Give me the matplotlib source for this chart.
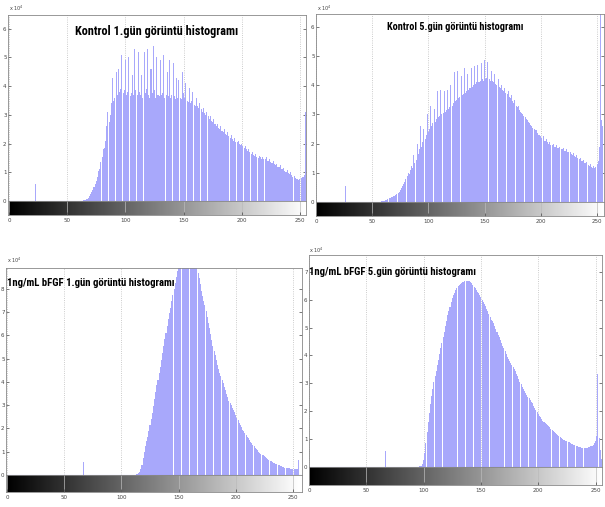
import numpy as np
import matplotlib
matplotlib.use("Agg")
import matplotlib.pyplot as plt

# ---- data (counts x 10^4, one value per grey level) ----
bins = np.arange(256)

# Kontrol 1.gun
k1_start = 64
k1_vals = [0.02, 0.03, 0.05, 0.08, 0.12, 0.18,
           0.25, 0.32, 0.40, 0.50, 0.58, 0.70, 0.85, 1.05, 1.10, 1.35,
           1.55, 1.80, 1.85, 2.10, 2.60, 3.10, 2.75, 3.00, 3.40, 4.30,
           3.50, 3.60, 4.50, 3.70, 4.60, 3.80, 3.90, 5.10, 3.75, 3.85,
           4.90, 3.70, 3.80, 5.00, 3.65, 3.75, 4.40, 3.70, 5.30, 3.85,
           3.70, 5.20, 3.80, 3.70, 4.40, 3.60, 5.20, 3.75, 3.90, 5.30,
           3.70, 3.60, 4.60, 3.75, 5.40, 3.85, 3.60, 5.00, 3.70, 3.65,
           4.90, 3.70, 3.75, 5.10, 3.60, 3.70, 4.50, 3.65, 4.90, 3.60,
           3.70, 4.80, 3.65, 3.55, 4.30, 3.60, 4.20, 3.60, 3.55, 4.50,
           3.75, 3.60, 4.10, 3.50, 3.45, 3.95, 3.40, 3.50, 3.80, 3.35,
           3.30, 3.60, 3.30, 3.25, 3.40, 3.20, 3.10, 3.25, 3.05, 3.00,
           3.10, 2.95, 2.85, 2.95, 2.80, 2.75, 2.85, 2.70, 2.60, 2.70,
           2.55, 2.50, 2.60, 2.45, 2.40, 2.50, 2.35, 2.30, 2.40, 2.25,
           2.20, 2.30, 2.15, 2.10, 2.20, 2.05, 2.05, 2.10, 2.00, 1.95,
           2.00, 1.90, 1.85, 1.90, 1.80, 1.75, 1.80, 1.70, 1.65, 1.70,
           1.62, 1.58, 1.65, 1.55, 1.50, 1.58, 1.52, 1.48, 1.55, 1.45,
           1.45, 1.52, 1.40, 1.38, 1.45, 1.35, 1.32, 1.40, 1.28, 1.25,
           1.30, 1.20, 1.18, 1.25, 1.12, 1.10, 1.15, 1.05, 1.02, 1.08,
           0.98, 0.95, 1.00, 0.90, 0.85, 0.88, 0.80, 0.75, 0.78, 0.72,
           0.75, 0.80, 0.85, 0.82, 0.90, 3.10]
k1_spike_bin = [23]
k1_spike_val = [0.58]

# Kontrol 5.gun
k5_start = 58
k5_vals = [0.02, 0.03,
           0.04, 0.05, 0.06, 0.08, 0.10, 0.12, 0.14, 0.16, 0.18, 0.20,
           0.22, 0.25, 0.28, 0.32, 0.35, 0.40, 0.48, 0.55, 0.62, 0.70,
           0.80, 0.88, 1.00, 0.95, 1.10, 1.25, 1.15, 1.60, 1.35, 1.45,
           2.00, 1.65, 1.80, 2.60, 1.90, 2.05, 2.50, 2.15, 2.30, 3.00,
           2.40, 2.50, 3.30, 2.60, 2.70, 3.20, 2.75, 2.85, 3.80, 2.90,
           2.95, 3.85, 3.00, 3.05, 3.80, 3.10, 3.15, 3.85, 3.20, 3.25,
           4.00, 3.30, 3.40, 4.45, 3.45, 3.50, 4.50, 3.55, 3.60, 4.30,
           3.65, 3.70, 4.60, 3.75, 3.80, 4.40, 3.85, 3.90, 4.60, 3.95,
           4.00, 4.65, 4.05, 4.10, 4.70, 4.10, 4.15, 4.75, 4.20, 4.15,
           4.85, 4.20, 4.25, 4.80, 4.20, 4.15, 4.50, 4.15, 4.10, 4.40,
           4.05, 4.00, 4.20, 3.95, 3.90, 4.00, 3.85, 3.80, 3.90, 3.75,
           3.70, 3.80, 3.60, 3.55, 3.65, 3.45, 3.40, 3.50, 3.30, 3.25,
           3.30, 3.15, 3.10, 3.05, 3.00, 2.95, 2.90, 2.85, 2.80, 2.75,
           2.70, 2.65, 2.60, 2.55, 2.50, 2.45, 2.45, 2.35, 2.30, 2.30,
           2.25, 2.20, 2.25, 2.10, 2.10, 2.15, 2.05, 2.00, 2.05, 1.95,
           1.95, 2.00, 1.90, 1.90, 1.95, 1.85, 1.85, 1.90, 1.80, 1.80,
           1.85, 1.75, 1.75, 1.80, 1.70, 1.70, 1.72, 1.65, 1.62, 1.68,
           1.58, 1.55, 1.60, 1.50, 1.48, 1.52, 1.42, 1.40, 1.45, 1.35,
           1.32, 1.38, 1.28, 1.25, 1.30, 1.20, 1.18, 1.25, 1.15, 1.20,
           1.30, 1.40, 1.90, 6.90, 2.80, 2.60]
k5_spike_bin = [26]
k5_spike_val = [0.54]

# 1ng/mL bFGF 1.gun
f1_start = 112
f1_vals = [0.02, 0.03, 0.05, 0.08, 0.12, 0.25, 0.45, 0.75,
           1.00, 1.25, 1.45, 1.65, 1.90, 2.15, 2.40, 2.65, 2.95, 3.25,
           3.55, 3.85, 4.10, 4.40, 4.65, 4.95, 5.25, 5.55, 5.85, 6.10,
           6.40, 6.70, 6.95, 7.20, 7.50, 7.75, 8.00, 8.25, 8.50, 8.75,
           8.95, 9.15, 9.30, 9.45, 9.55, 9.60, 9.65, 9.65, 9.60, 9.55,
           9.50, 9.40, 9.30, 9.20, 9.10, 9.00, 8.90, 8.70, 8.45, 8.20,
           7.90, 7.70, 7.50, 7.30, 7.05, 6.80, 6.55, 6.30, 6.05, 5.80,
           5.55, 5.35, 5.15, 4.95, 4.75, 4.55, 4.40, 4.25, 4.10, 3.95,
           3.80, 3.65, 3.50, 3.35, 3.20, 3.10, 3.00, 2.90, 2.80, 2.70,
           2.60, 2.45, 2.35, 2.25, 2.15, 2.05, 1.95, 1.88, 1.80, 1.72,
           1.65, 1.58, 1.50, 1.43, 1.36, 1.30, 1.24, 1.18, 1.12, 1.06,
           1.00, 0.96, 0.92, 0.88, 0.84, 0.80, 0.76, 0.72, 0.68, 0.65,
           0.62, 0.59, 0.56, 0.53, 0.50, 0.48, 0.46, 0.44, 0.42, 0.40,
           0.38, 0.36, 0.34, 0.32, 0.31, 0.30, 0.29, 0.28, 0.27, 0.26,
           0.25, 0.25, 0.24, 0.24, 0.26, 0.65]
f1_spike_bin = [67]
f1_spike_val = [0.57]

# 1ng/mL bFGF 5.gun
f5_start = 95
f5_vals = [0.01, 0.02, 0.03, 0.05, 0.10,
           0.25, 0.50, 0.85, 1.25, 1.60, 1.95, 2.25, 2.55, 2.80, 3.05,
           3.25, 3.45, 3.65, 3.85, 4.05, 4.25, 4.45, 4.65, 4.85, 5.05,
           5.25, 5.45, 5.60, 5.75, 5.90, 6.05, 6.15, 6.25, 6.35, 6.42,
           6.48, 6.52, 6.56, 6.60, 6.62, 6.64, 6.66, 6.67, 6.68, 6.68,
           6.66, 6.62, 6.58, 6.52, 6.46, 6.40, 6.34, 6.28, 6.22, 6.15,
           6.08, 6.00, 5.92, 5.84, 5.76, 5.68, 5.58, 5.48, 5.38, 5.28,
           5.25, 5.15, 5.05, 4.95, 4.85, 4.75, 4.65, 4.55, 4.45, 4.35,
           4.25, 4.15, 4.05, 3.95, 3.87, 3.80, 3.72, 3.65, 3.58, 3.52,
           3.45, 3.35, 3.25, 3.15, 3.05, 2.96, 2.88, 2.80, 2.72, 2.65,
           2.58, 2.52, 2.46, 2.40, 2.34, 2.28, 2.20, 2.12, 2.04, 1.96,
           1.90, 1.84, 1.78, 1.72, 1.66, 1.62, 1.58, 1.54, 1.50, 1.46,
           1.42, 1.38, 1.34, 1.30, 1.26, 1.22, 1.18, 1.14, 1.10, 1.06,
           1.03, 1.00, 0.98, 0.96, 0.94, 0.92, 0.90, 0.88, 0.86, 0.84,
           0.82, 0.80, 0.78, 0.76, 0.74, 0.72, 0.71, 0.70, 0.69, 0.68,
           0.68, 0.67, 0.67, 0.68, 0.70, 0.72, 0.74, 0.76, 0.80, 0.85,
           0.95, 1.10, 3.35, 1.05, 0.60, 0.30]
f5_spike_bin = [67]
f5_spike_val = [0.57]

titles = ["Kontrol 1.gün görüntü histogramı",
          "Kontrol 5.gün görüntü histogramı",
          "1ng/mL bFGF 1.gün görüntü histogramı",
          "1ng/mL bFGF 5.gün görüntü histogramı"]
y_ticks = [list(range(0, 7)), list(range(0, 7)), list(range(0, 9)), list(range(0, 8))]
x_ticks = [0, 50, 100, 150, 200, 250]


def build(start, vals, sb, sv):
    h = np.zeros(256)
    h[start:start + len(vals)] = vals
    h[sb] = sv
    return h


series = [build(k1_start, k1_vals, k1_spike_bin, k1_spike_val),
          build(k5_start, k5_vals, k5_spike_bin, k5_spike_val),
          build(f1_start, f1_vals, f1_spike_bin, f1_spike_val),
          build(f5_start, f5_vals, f5_spike_bin, f5_spike_val)]

# ---- layout (pixels of the 605x507 picture) ----
W, H = 605, 507
# (left, right, top, bottom, colorbar bottom, xlim, ylim top)
boxes = [(8, 306, 15, 201, 215, (-0.9, 255.2), 6.48),
         (316, 604, 14, 202, 216, (0, 256.2), 6.44),
         (6, 302, 268, 475, 492, (-0.9, 257.9), 8.9),
         (309, 602, 255, 467, 485, (0, 255.6), 7.6)]
# title: left px, centre y px, target width px
title_pos = [(75, 32, 163), (387, 27, 137), (7, 283, 168), (309, 272, 166)]
exp_pos = [(9, 8), (317, 8), (7, 260), (309, 250)]
title_font = ["Roboto Condensed", "DejaVu Sans Condensed", "Liberation Sans Narrow",
              "Roboto", "DejaVu Sans"]

bar_color = "#a8a8fb"
grad = np.linspace(0, 1, 256).reshape(1, -1)

fig = plt.figure(figsize=(6.05, 5.07), dpi=100)
renderer = fig.canvas.get_renderer()

for i in range(4):
    l, r, t, b, cb, xl, yt = boxes[i]
    ax = fig.add_axes([l / W, 1 - b / H, (r - l) / W, (b - t) / H])
    ax.bar(bins, series[i], width=0.9, color=bar_color, linewidth=0)
    ax.axhline(0, color="#8080f0", lw=0.8)
    ax.set_xlim(xl)
    ax.set_ylim(0, yt)
    ax.set_xticks(x_ticks)
    ax.set_xticklabels([])
    ax.set_yticks(y_ticks[i])
    ax.tick_params(axis="y", direction="in", right=True, length=2.5, width=0.5,
                   labelsize=4, colors="#444444", pad=1)
    ax.tick_params(axis="x", direction="in", length=0, top=False)
    ax.grid(axis="x", linestyle=":", color="#bbbbbb", lw=0.6)
    ax.set_axisbelow(True)
    for s in ax.spines.values():
        s.set_color("#888888")
        s.set_linewidth(0.6)

    # grey-level colour bar under the histogram
    cax = fig.add_axes([l / W, 1 - cb / H, (r - l) / W, (cb - b) / H])
    cax.imshow(grad, cmap="gray", aspect="auto", extent=(0, 255, 0, 1))
    cax.set_xlim(xl)
    cax.set_ylim(0, 1)
    cax.set_yticks([])
    cax.set_xticks(x_ticks)
    cax.tick_params(axis="x", direction="in", length=2, width=0.5,
                    labelsize=4, colors="#444444", pad=2)
    cax.grid(axis="x", color="#bbbbbb", lw=0.5)
    for s in cax.spines.values():
        s.set_color("#888888")
        s.set_linewidth(0.6)

    tx, ty, tw = title_pos[i]
    txt = fig.text(tx / W, 1 - ty / H, titles[i], ha="left", va="center",
                   fontsize=10, fontweight="bold", fontstretch="condensed",
                   family=title_font)
    # shrink to the width the title takes in the picture
    wpx = txt.get_window_extent(renderer).width
    txt.set_fontsize(10 * tw / wpx)
    ex, ey = exp_pos[i]
    fig.text(ex / W, 1 - ey / H, r"x 10$^4$", fontsize=3.5, color="#444444",
             ha="left", va="center")

fig.savefig("out.png", dpi=100)
